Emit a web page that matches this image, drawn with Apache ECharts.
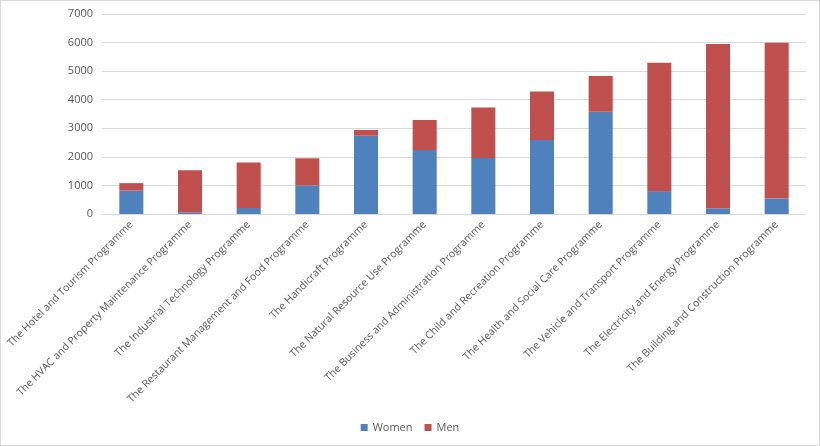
<!DOCTYPE html>
<html>
<head>
<meta charset="utf-8">
<script src="https://cdn.jsdelivr.net/npm/echarts@6/dist/echarts.min.js"></script>
<style>
html,body{margin:0;padding:0;background:#fff;}
#c{position:absolute;left:0;top:0;width:818px;height:444px;border:1px solid #d9d9d9;}
</style>
</head>
<body>
<div id="c"></div>
<script>
var categories = [
  "The Hotel and Tourism Programme",
  "The HVAC and Property Maintenance Programme",
  "The Industrial Technology Programme",
  "The Restaurant Management and Food Programme",
  "The Handicraft Programme",
  "The Natural Resource Use Programme",
  "The Business and Administration Programme",
  "The Child and Recreation Programme",
  "The Health and Social Care Programme",
  "The Vehicle and Transport Programme",
  "The Electricity and Energy Programme",
  "The Building and Construction Programme"
];
var women = [820, 55, 210, 1000, 2740, 2240, 1960, 2590, 3580, 800, 200, 540];
var men = [260, 1475, 1590, 950, 200, 1050, 1770, 1700, 1250, 4490, 5750, 5450];
var yTicks = {min: 0, max: 7000, interval: 1000};

var chart = echarts.init(document.getElementById('c'));
chart.setOption({
  animation: false,
  textStyle: {fontFamily: 'Open Sans'},
  grid: {left: 101, right: 13, top: 13, bottom: 231},
  legend: {
    bottom: 7,
    left: 'center',
    itemWidth: 7, itemHeight: 7, itemGap: 12,
    icon: 'rect',
    textStyle: {color: '#595959', fontSize: 11, fontFamily: 'Open Sans'},
    data: ['Women', 'Men']
  },
  xAxis: {
    type: 'category',
    data: categories,
    axisLine: {lineStyle: {color: '#d9d9d9'}},
    axisTick: {show: false},
    axisLabel: {rotate: 45, interval: 0, color: '#595959', fontSize: 10.5, margin: 9}
  },
  yAxis: {
    type: 'value',
    min: yTicks.min, max: yTicks.max, interval: yTicks.interval,
    axisLine: {show: false},
    axisTick: {show: false},
    splitLine: {lineStyle: {color: '#d9d9d9'}},
    axisLabel: {color: '#595959', fontSize: 11, margin: 9, formatter: function (v) { return String(v); }}
  },
  series: [
    {name: 'Women', type: 'bar', stack: 't', data: women, barWidth: '41%', itemStyle: {color: '#4F81BD'}},
    {name: 'Men', type: 'bar', stack: 't', data: men, barWidth: '41%', itemStyle: {color: '#C0504D'}}
  ]
});
</script>
</body>
</html>
